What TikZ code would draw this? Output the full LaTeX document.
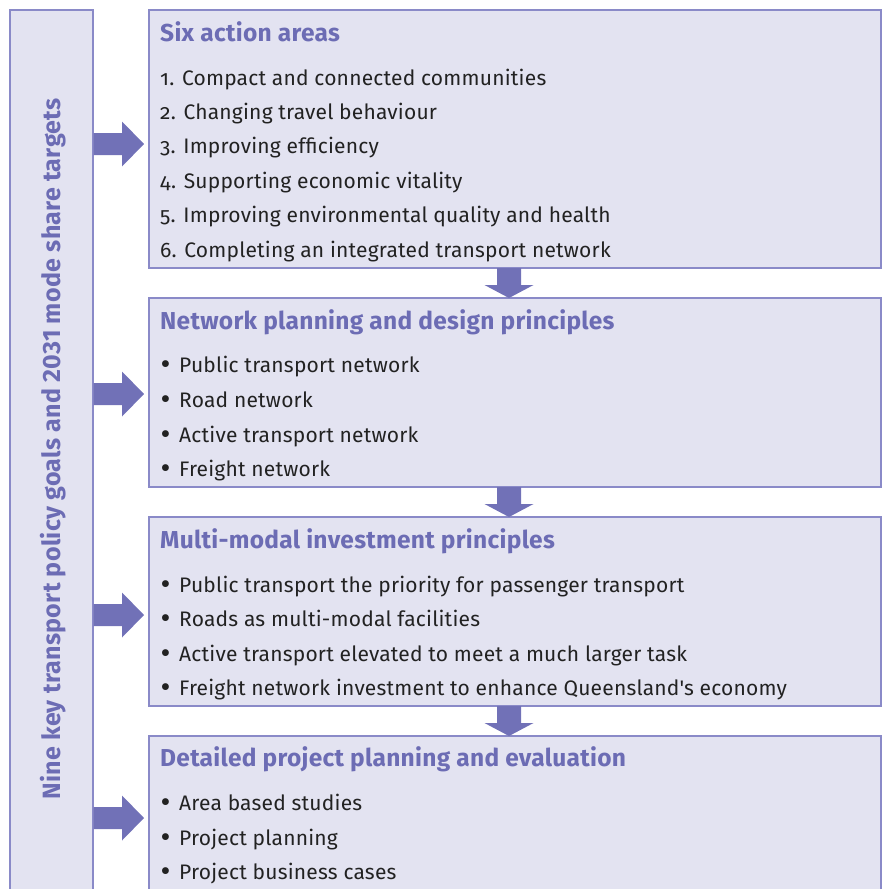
\documentclass[tikz,border=0pt]{standalone}
\usepackage{fontspec}
\usetikzlibrary{calc}
\setmainfont{Fira Sans}[Numbers=OldStyle]
\newfontfamily\plainfira{Fira Sans}[Numbers=OldStyle, LetterSpace=1]
\definecolor{boxfill}{HTML}{E3E3F1}
\definecolor{boxline}{HTML}{8A8AC8}
\definecolor{arrowc}{HTML}{7171B7}
\definecolor{titlec}{HTML}{6C6CB4}
\definecolor{bodyc}{HTML}{222222}
\newcommand{\bul}{\makebox[19pt][l]{\hspace{0.5pt}\raisebox{-2pt}{\scalebox{1.45}{•}}}}
\tikzset{
  panel/.style={fill=boxfill, draw=boxline, line width=1.3pt},
  ttl/.style={anchor=base west, inner sep=0pt, text=titlec, font=\fontsize{24.5}{27}\selectfont\bfseries\addfontfeatures{LetterSpace=1.2}},
  itm/.style={anchor=base west, inner sep=0pt, text=bodyc, font=\fontsize{21}{24}\selectfont\addfontfeatures{LetterSpace=1}},
  blockarrow/.style={fill=arrowc, draw=none}
}
\begin{document}
\begin{tikzpicture}[x=1pt,y=-1pt]
\useasboundingbox (0,0) rectangle (884,889);
\clip (0,0) rectangle (884,889);
% left column
\draw[panel] (10,10) rectangle (93,900);
\node[inner sep=0pt, rotate=90, text=titlec, font=\fontsize{25}{27}\selectfont\bfseries\addfontfeatures{Numbers=Lining, LetterSpace=1.2}] (goals) at (53,449) {Nine key transport policy goals and 2031 mode share targets};
% boxes
\draw[panel] (149,10) rectangle (881,268);
\draw[panel] (149,298) rectangle (881,487);
\draw[panel] (149,517) rectangle (881,706);
\draw[panel] (149,736) rectangle (881,900);
\coordinate (b1s) at (509,268);
\coordinate (b2n) at (509,298);
\coordinate (b2s) at (509,487);
\coordinate (b3n) at (509,517);
\coordinate (b3s) at (509,706);
\coordinate (b4n) at (509,736);
% down arrows
\foreach \s/\n in {b1s/b2n, b2s/b3n, b3s/b4n}{
  \fill[blockarrow] ($(\s)+(-12,0)$) -- ($(\s)+(12,0)$) -- ($(\n)+(12,-13)$) -- ($(\n)+(24.5,-13)$) -- (\n) -- ($(\n)+(-24.5,-13)$) -- ($(\n)+(-12,-13)$) -- cycle;
}
% right arrows
\foreach \y in {144,394,615,818}{
  \fill[blockarrow] (93.6,\y-11) -- (122,\y-11) -- (122,\y-22.5) -- (144,\y) -- (122,\y+22.5) -- (122,\y+11) -- (93.6,\y+11) -- cycle;
}
% box 1
\node[ttl] (t1) at (160,41) {Six action areas};
\node[itm] (a1) at (160,85) {1. Compact and connected communities};
\node[itm] (a2) at (160,119.4) {2. Changing travel behaviour};
\node[itm] (a3) at (160,153.8) {3. Improving efficiency};
\node[itm] (a4) at (160,188.2) {4. Supporting economic vitality};
\node[itm] (a5) at (160,222.6) {5. Improving environmental quality and health};
\node[itm] (a6) at (160,257) {6. Completing an integrated transport network};
% box 2
\node[ttl] (t2) at (160,329) {Network planning and design principles};
\node[itm] (n1) at (160,372) {\bul Public transport network};
\node[itm] (n2) at (160,407) {\bul Road network};
\node[itm] (n3) at (160,442) {\bul Active transport network};
\node[itm] (n4) at (160,476.5) {\bul Freight network};
% box 3
\node[ttl] (t3) at (160,548) {Multi-modal investment principles};
\node[itm] (m1) at (160,592) {\bul Public transport the priority for passenger transport};
\node[itm] (m2) at (160,626.5) {\bul Roads as multi-modal facilities};
\node[itm] (m3) at (160,661) {\bul Active transport elevated to meet a much larger task};
\node[itm] (m4) at (160,695.5) {\bul Freight network investment to enhance Queensland{\plainfira'}s economy};
% box 4
\node[ttl] (t4) at (160,766) {Detailed project planning and evaluation};
\node[itm] (d1) at (160,810) {\bul Area based studies};
\node[itm] (d2) at (160,845) {\bul Project planning};
\node[itm] (d3) at (160,879.5) {\bul Project business cases};
\end{tikzpicture}
\end{document}
